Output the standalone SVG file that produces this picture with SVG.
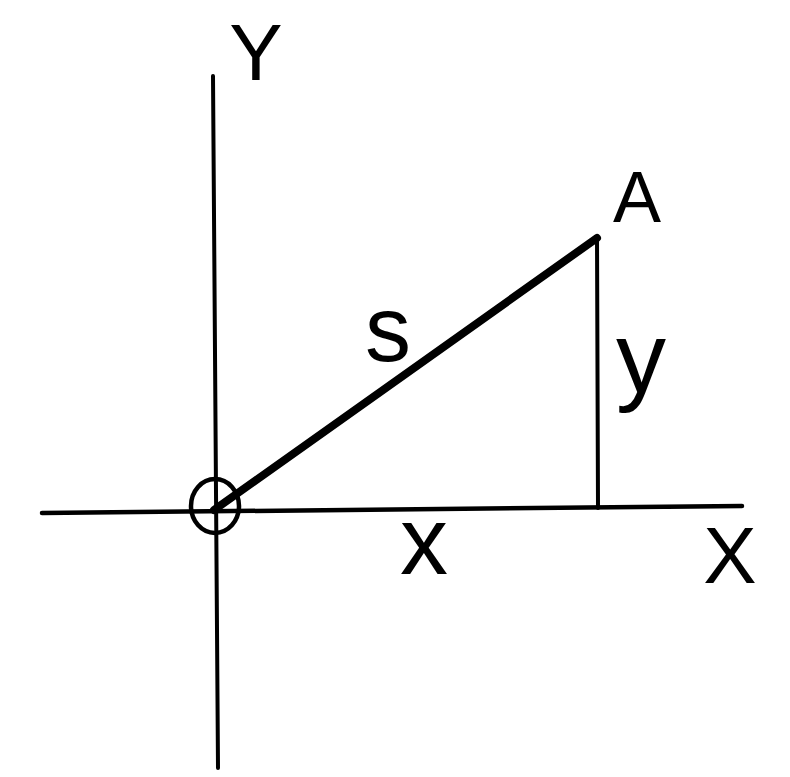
<svg xmlns="http://www.w3.org/2000/svg" width="790" height="777" viewBox="0 0 790 777">
<style>
.ln{stroke:#000;stroke-linecap:round;fill:none}
.lbl{font-family:"Liberation Sans",Arial,sans-serif;fill:#000}
</style>
<rect width="790" height="777" fill="#fff"/>
<g id="connectors">
<line class="ln" x1="213" y1="76" x2="218" y2="768" stroke-width="4"/>
<line class="ln" x1="42" y1="513" x2="742" y2="506" stroke-width="4.5"/>
<line class="ln" x1="214" y1="510" x2="597" y2="238" stroke-width="8"/>
<line class="ln" x1="597" y1="237" x2="598" y2="508" stroke-width="4"/>
</g>
<g id="origin"><ellipse class="ln" cx="215" cy="506" rx="24" ry="27" stroke-width="4.5"/></g>
<g id="label-Y"><text class="lbl" x="256" y="80" font-size="80" text-anchor="middle">Y</text></g>
<g id="label-X"><text class="lbl" x="730" y="583" font-size="80" text-anchor="middle">X</text></g>
<g id="label-A"><text class="lbl" x="637" y="222" font-size="72" text-anchor="middle">A</text></g>
<g id="label-s"><text class="lbl" x="388" y="361" font-size="92" text-anchor="middle">s</text></g>
<g id="label-y"><text class="lbl" x="641" y="392" font-size="100" text-anchor="middle">y</text></g>
<g id="label-x"><text class="lbl" x="424" y="574" font-size="96" text-anchor="middle">x</text></g>
</svg>
